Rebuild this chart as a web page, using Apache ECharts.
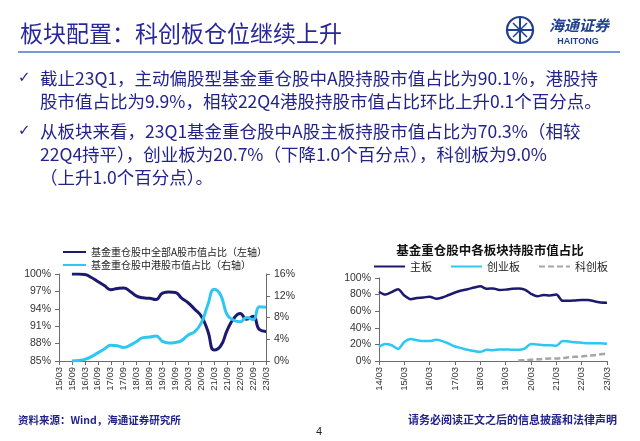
<!DOCTYPE html>
<html><head><meta charset="utf-8">
<script src="https://cdn.jsdelivr.net/npm/echarts/dist/echarts.min.js"></script>
<style>html,body{margin:0;padding:0;background:#fff}#c{width:640px;height:441px}</style>
</head><body><div id="c"></div>
<script>
// Left chart: quarterly categories 15/03 .. 23/03
const leftCategories = ['15/03','15/06','15/09','15/12','16/03','16/06','16/09','16/12','17/03','17/06','17/09','17/12','18/03','18/06','18/09','18/12','19/03','19/06','19/09','19/12','20/03','20/06','20/09','20/12','21/03','21/06','21/09','21/12','22/03','22/06','22/09','22/12','23/03'];
const aShareRatio = [null,null,100,100,99.9,99.4,98.7,98.0,97.3,97.5,97.6,97.0,96.2,95.9,95.8,95.6,96.7,96.9,96.8,95.8,95.0,93.9,92.7,90.2,86.9,87.6,90.3,92.3,93.2,92.2,92.7,90.4,90.1];
const hkShareRatio = [null,null,0,0.1,0.3,0.8,1.5,2.2,2.9,2.8,2.5,2.9,3.6,4.3,4.4,4.6,3.6,3.3,3.4,3.8,4.8,5.4,7.0,10.3,13.2,12.1,8.5,7.5,7.2,8.0,7.6,10.0,9.9];
const leftSeriesNames = ['基金重仓股中全部A股市值占比（左轴）','基金重仓股中港股市值占比（右轴）'];

// Right chart: quarterly categories 14/03 .. 23/03
const rightCategories = ['14/03','14/06','14/09','14/12','15/03','15/06','15/09','15/12','16/03','16/06','16/09','16/12','17/03','17/06','17/09','17/12','18/03','18/06','18/09','18/12','19/03','19/06','19/09','19/12','20/03','20/06','20/09','20/12','21/03','21/06','21/09','21/12','22/03','22/06','22/09','22/12','23/03'];
const mainBoard = [83.5,80,83,86.5,79,74.5,76,76.5,77.5,75,76.5,79.5,82.5,85,86.5,88.5,90,87,87.5,85.5,86,87,87.5,86,81,78,79.5,79,80,72.5,72.5,73,73.5,73.5,72,70.5,70.3];
const chiNext = [17,20.5,19,14.5,23,26.5,25,24,24,25.5,24,21,17.5,15.5,13.5,12,11,13.5,13,14,14,13.5,13.5,15,20.5,20,19,19,18.5,24,23.5,22.5,22,21.5,21.5,21.5,20.7];
const starMarket = [null,null,null,null,null,null,null,null,null,null,null,null,null,null,null,null,null,null,null,null,null,null,0.5,1,1.5,2,2.5,3,3,3.5,4.5,5,5.5,6.5,7,8,9.0];
const rightSeriesNames = ['主板','创业板','科创板'];
const rightTitle = '基金重仓股中各板块持股市值占比';

const NAVY = '#1B1A6E', CYAN = '#2EC6F2', GRAY = '#A6A6A6', AXIS = '#6b6b6b';
const TXT = '#23238C';
const F = '"Noto Sans CJK SC","Liberation Sans",sans-serif';
const lab = {fontSize:9.5, color:'#333', fontFamily:'"Liberation Sans",Arial,sans-serif'};

const chart = echarts.init(document.getElementById('c'), null, {renderer:'canvas'});

function T(x, y, text, opt) {
  return Object.assign({type:'text', x:x, y:y, style:Object.assign({text:text, fill:TXT, fontFamily:F, fontSize:17.5, verticalAlign:'middle', align:'left'}, opt||{})});
}

const graphics = [
  T(20, 33, '板块配置：科创板仓位继续上升', {fontSize:23, fill:'#27279A'}),
  {type:'line', shape:{x1:18,y1:52,x2:620,y2:52}, style:{stroke:'#4a78c8', lineWidth:1.5}},
  {type:'circle', shape:{cx:520, cy:30, r:13}, style:{fill:'none', stroke:'#1f3f8f', lineWidth:2.2}},
  {type:'line', shape:{x1:507,y1:30,x2:533,y2:30}, style:{stroke:'#1f3f8f', lineWidth:2}},
  {type:'line', shape:{x1:520,y1:17,x2:520,y2:43}, style:{stroke:'#1f3f8f', lineWidth:2}},
  {type:'line', shape:{x1:513,y1:23,x2:527,y2:37}, style:{stroke:'#1f3f8f', lineWidth:1.5}},
  {type:'line', shape:{x1:527,y1:23,x2:513,y2:37}, style:{stroke:'#1f3f8f', lineWidth:1.5}},
  T(579, 25, '海通证券', {fontSize:15, fontWeight:'bold', align:'center', fill:'#1f3f8f', fontStyle:'italic'}),
  T(578, 42, 'HAITONG', {fontSize:9, fontWeight:'bold', align:'center', fill:'#1f3f8f', fontFamily:'"Liberation Sans",Arial,sans-serif'}),
  T(18, 78, '✓', {fontSize:15, fontFamily:'"DejaVu Sans",sans-serif'}),
  T(40, 78, '截止23Q1，主动偏股型基金重仓股中A股持股市值占比为90.1%，港股持'),
  T(40, 101, '股市值占比为9.9%，相较22Q4港股持股市值占比环比上升0.1个百分点。'),
  T(18, 131, '✓', {fontSize:15, fontFamily:'"DejaVu Sans",sans-serif'}),
  T(40, 131, '从板块来看，23Q1基金重仓股中A股主板持股市值占比为70.3%（相较'),
  T(40, 154, '22Q4持平），创业板为20.7%（下降1.0个百分点），科创板为9.0%'),
  T(40, 177, '（上升1.0个百分点）。'),
  T(490, 250, rightTitle, {fontSize:12.5, fontWeight:'bold', align:'center', fill:'#111'}),
  T(18, 420, '资料来源：Wind，海通证券研究所', {fontSize:10.5, fontWeight:'bold'}),
  T(617, 420, '请务必阅读正文之后的信息披露和法律声明', {fontSize:11, fontWeight:'bold', align:'right'}),
  T(319, 432, '4', {fontSize:11, align:'center', fill:'#222', fontFamily:'"Liberation Sans",Arial,sans-serif'})
];

const axisLineStyle = {show:true, lineStyle:{color:AXIS, width:1}};

chart.setOption({
  animation:false,
  backgroundColor:'#fff',
  graphic: graphics,
  legend:[
    {data:leftSeriesNames, orient:'vertical', left:57, top:242, itemWidth:23, itemHeight:10, itemGap:3,
     itemStyle:{opacity:0},
     textStyle:{fontSize:10, color:'#222', fontFamily:F}},
    {data:rightSeriesNames, orient:'horizontal', left:368, top:256, itemWidth:31, itemHeight:10, itemGap:18,
     itemStyle:{opacity:0},
     textStyle:{fontSize:11, color:'#222', fontFamily:F}}
  ],
  grid:[
    {left:59, top:274, width:207, height:87, containLabel:false},
    {left:379, top:278, width:228, height:83, containLabel:false}
  ],
  xAxis:[
    {type:'category', gridIndex:0, data:leftCategories, boundaryGap:false,
     axisLine:axisLineStyle, axisTick:{show:true, interval:1, length:4, lineStyle:{color:AXIS}},
     axisLabel:Object.assign({rotate:90, interval:1, margin:6}, lab), splitLine:{show:false}},
    {type:'category', gridIndex:1, data:rightCategories, boundaryGap:false,
     axisLine:axisLineStyle, axisTick:{show:true, interval:3, length:4, lineStyle:{color:AXIS}},
     axisLabel:Object.assign({rotate:90, interval:3, margin:6}, lab), splitLine:{show:false}}
  ],
  yAxis:[
    {type:'value', gridIndex:0, min:85, max:100, interval:3, position:'left',
     axisLine:axisLineStyle, axisTick:{show:true, length:4, lineStyle:{color:AXIS}},
     axisLabel:Object.assign({formatter:'{value}%', margin:8}, lab, {fontSize:10.5}), splitLine:{show:false}},
    {type:'value', gridIndex:0, min:0, max:16, interval:4, position:'right',
     axisLine:axisLineStyle, axisTick:{show:true, length:4, lineStyle:{color:AXIS}},
     axisLabel:Object.assign({formatter:'{value}%', margin:8}, lab, {fontSize:10.5}), splitLine:{show:false}},
    {type:'value', gridIndex:1, min:0, max:100, interval:20,
     axisLine:axisLineStyle, axisTick:{show:true, length:4, lineStyle:{color:AXIS}},
     axisLabel:Object.assign({formatter:'{value}%', margin:8}, lab, {fontSize:10.5}), splitLine:{show:false}}
  ],
  series:[
    {name:leftSeriesNames[0], type:'line', xAxisIndex:0, yAxisIndex:0, data:aShareRatio, smooth:0.5, symbol:'none',
     lineStyle:{color:NAVY, width:3}, itemStyle:{color:NAVY}},
    {name:leftSeriesNames[1], type:'line', xAxisIndex:0, yAxisIndex:1, data:hkShareRatio, smooth:0.5, symbol:'none',
     lineStyle:{color:CYAN, width:3}, itemStyle:{color:CYAN}},
    {name:rightSeriesNames[0], type:'line', xAxisIndex:1, yAxisIndex:2, data:mainBoard, smooth:0.3, symbol:'none',
     lineStyle:{color:NAVY, width:2.5}, itemStyle:{color:NAVY}},
    {name:rightSeriesNames[1], type:'line', xAxisIndex:1, yAxisIndex:2, data:chiNext, smooth:0.3, symbol:'none',
     lineStyle:{color:CYAN, width:2.5}, itemStyle:{color:CYAN}},
    {name:rightSeriesNames[2], type:'line', xAxisIndex:1, yAxisIndex:2, data:starMarket, smooth:0.3, symbol:'none',
     lineStyle:{color:GRAY, width:2.5, type:[6,3]}, itemStyle:{color:GRAY}}
  ]
});
</script></body></html>
